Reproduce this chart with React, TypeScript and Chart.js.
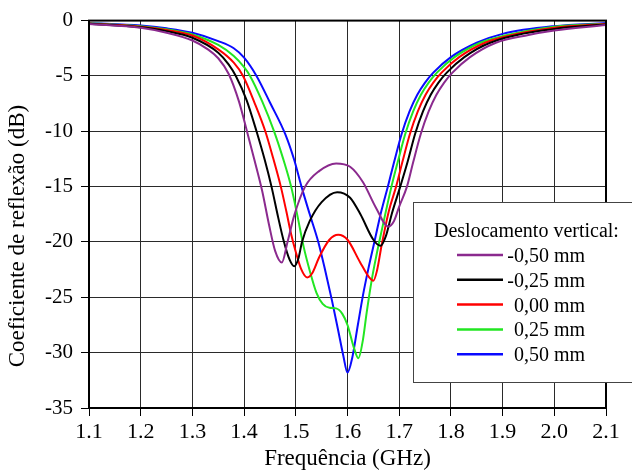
import React, { useEffect, useRef } from "react";
import { Chart, registerables } from "chart.js";

Chart.register(...registerables);

// ---- Data ----
const xTicks = [1.1, 1.2, 1.3, 1.4, 1.5, 1.6, 1.7, 1.8, 1.9, 2.0, 2.1];
const yTicks = [-35, -30, -25, -20, -15, -10, -5, 0];

const legendTitle = "Deslocamento vertical:";
const seriesLabels = ["-0,50 mm", "-0,25 mm", "0,00 mm", "0,25 mm", "0,50 mm"];

const freqM050 = [1.1, 1.2, 1.25, 1.3, 1.33, 1.35, 1.37, 1.39, 1.405, 1.42, 1.435, 1.448, 1.46, 1.473, 1.484, 1.497, 1.518, 1.545, 1.578, 1.605, 1.63, 1.655, 1.679, 1.69, 1.7, 1.715, 1.727, 1.742, 1.757, 1.772, 1.787, 1.803, 1.837, 1.887, 1.95, 2.0, 2.1];
const dbM050 = [-0.3, -0.65, -1.1, -1.8, -2.6, -3.4, -4.8, -7.3, -9.9, -12.6, -15.4, -18.4, -20.8, -21.85, -20.0, -17.6, -15.0, -13.6, -12.9, -13.2, -14.6, -16.9, -18.6, -18.1, -16.8, -15.0, -12.8, -10.2, -8.2, -6.7, -5.6, -4.7, -3.3, -2.0, -1.3, -0.9, -0.4];

const freqM025 = [1.1, 1.2, 1.25, 1.3, 1.35, 1.37, 1.384, 1.405, 1.424, 1.44, 1.453, 1.466, 1.476, 1.488, 1.497, 1.505, 1.512, 1.527, 1.55, 1.58, 1.605, 1.625, 1.65, 1.664, 1.674, 1.686, 1.702, 1.716, 1.731, 1.746, 1.761, 1.776, 1.792, 1.826, 1.876, 2.0, 2.1];
const dbM025 = [-0.28, -0.6, -0.95, -1.55, -2.9, -3.95, -5.0, -7.2, -10.0, -12.6, -15.0, -17.8, -19.8, -21.6, -22.2, -21.5, -20.0, -18.1, -16.4, -15.5, -16.0, -17.5, -19.8, -20.35, -19.5, -17.4, -15.0, -12.8, -10.2, -8.2, -6.7, -5.6, -4.7, -3.3, -2.0, -0.75, -0.35];

const freqP000 = [1.1, 1.2, 1.25, 1.3, 1.35, 1.38, 1.398, 1.42, 1.441, 1.456, 1.471, 1.482, 1.491, 1.5, 1.51, 1.522, 1.532, 1.545, 1.565, 1.582, 1.6, 1.624, 1.642, 1.65, 1.657, 1.666, 1.68, 1.694, 1.706, 1.721, 1.736, 1.751, 1.766, 1.782, 1.816, 1.866, 1.9, 2.0, 2.1];
const dbP000 = [-0.27, -0.55, -0.85, -1.35, -2.6, -3.8, -5.0, -7.4, -10.0, -12.4, -15.0, -17.3, -19.3, -20.9, -22.4, -23.2, -22.8, -21.4, -19.8, -19.35, -19.8, -21.8, -23.2, -23.5, -22.6, -20.3, -17.2, -15.0, -12.8, -10.2, -8.2, -6.7, -5.6, -4.7, -3.3, -2.0, -1.5, -0.65, -0.3];

const freqP025 = [1.1, 1.2, 1.25, 1.3, 1.35, 1.38, 1.4, 1.411, 1.435, 1.458, 1.475, 1.491, 1.503, 1.515, 1.527, 1.54, 1.552, 1.565, 1.578, 1.59, 1.6, 1.612, 1.621, 1.63, 1.637, 1.647, 1.656, 1.666, 1.685, 1.697, 1.712, 1.727, 1.742, 1.757, 1.773, 1.807, 1.857, 1.9, 2.0, 2.1];
const dbP025 = [-0.25, -0.5, -0.78, -1.25, -2.2, -3.2, -4.2, -4.95, -7.3, -10.0, -12.4, -15.0, -17.6, -20.4, -22.6, -24.6, -25.6, -25.95, -26.0, -26.5, -27.5, -29.5, -30.5, -28.8, -26.4, -23.4, -21.2, -19.0, -15.0, -12.8, -10.2, -8.2, -6.7, -5.6, -4.7, -3.3, -2.0, -1.4, -0.55, -0.28];

const freqP050 = [1.1, 1.2, 1.25, 1.3, 1.35, 1.38, 1.4, 1.424, 1.45, 1.48, 1.497, 1.511, 1.527, 1.5435, 1.557, 1.57, 1.582, 1.592, 1.6, 1.609, 1.62, 1.63, 1.64, 1.652, 1.665, 1.678, 1.69, 1.705, 1.72, 1.735, 1.75, 1.766, 1.8, 1.85, 1.9, 2.0, 2.1];
const dbP050 = [-0.22, -0.45, -0.7, -1.1, -1.85, -2.5, -3.35, -5.0, -7.4, -10.3, -12.6, -15.0, -17.5, -20.0, -22.6, -25.3, -28.0, -30.3, -31.8, -30.5, -27.5, -24.8, -22.5, -20.0, -17.3, -15.0, -12.8, -10.2, -8.2, -6.7, -5.6, -4.7, -3.3, -2.0, -1.2, -0.5, -0.22];

const seriesFreqs = [freqM050, freqM025, freqP000, freqP025, freqP050];
const seriesDb = [dbM050, dbM025, dbP000, dbP025, dbP050];

// ---- Styles ----
const seriesColors = ["#8B2A8E", "#000000", "#FF0000", "#22E622", "#0A0AFF"];
const SERIF = '"Liberation Serif", "Times New Roman", serif';

const decorPlugin = {
  id: "decor",
  afterDatasetsDraw(chart: any) {
    const { ctx, chartArea } = chart;
    const { left, top, right, bottom } = chartArea;
    ctx.save();
    ctx.strokeStyle = "#000";
    ctx.lineWidth = 2;
    ctx.strokeRect(left, top, right - left, bottom - top);
    ctx.restore();
  },
  afterDraw(chart: any) {
    const { ctx, chartArea } = chart;
    const { left, right } = chartArea;
    ctx.save();
    // Legend box
    const bx = 413, by = 202, bw = 240, bh = 180;
    ctx.fillStyle = "#fff";
    ctx.fillRect(bx, by, bw, bh);
    ctx.strokeStyle = "#444";
    ctx.lineWidth = 1;
    ctx.strokeRect(bx + 0.5, by + 0.5, bw, bh);
    ctx.fillStyle = "#000";
    ctx.font = `20px ${SERIF}`;
    ctx.textBaseline = "alphabetic";
    ctx.textAlign = "left";
    ctx.fillText(legendTitle, 434, 237);
    seriesLabels.forEach((lab, i) => {
      const ly = 255 + i * 24.8;
      ctx.strokeStyle = seriesColors[i];
      ctx.lineWidth = 2.5;
      ctx.beginPath();
      ctx.moveTo(457, ly);
      ctx.lineTo(503, ly);
      ctx.stroke();
      ctx.fillStyle = "#000";
      ctx.textAlign = "right";
      ctx.fillText(lab, 585, ly + 7);
    });
    // Axis titles
    ctx.fillStyle = "#000";
    ctx.font = `23px ${SERIF}`;
    ctx.textAlign = "center";
    ctx.textBaseline = "alphabetic";
    ctx.fillText("Frequência (GHz)", (left + right) / 2, 465);
    ctx.translate(24, 236);
    ctx.rotate(-Math.PI / 2);
    ctx.fillText("Coeficiente de reflexão (dB)", 0, 0);
    ctx.restore();
  },
};

export default function App() {
  const canvasRef = useRef<HTMLCanvasElement | null>(null);

  useEffect(() => {
    document.body.style.margin = "0";
    const canvas = canvasRef.current;
    if (!canvas) return;
    const datasets = seriesLabels.map((label, i) => ({
      label,
      data: seriesFreqs[i].map((f, j) => ({ x: f, y: seriesDb[i][j] })),
      borderColor: seriesColors[i],
      backgroundColor: seriesColors[i],
      borderWidth: 2,
      pointRadius: 0,
      cubicInterpolationMode: "monotone" as const,
      fill: false,
    }));
    const chart = new Chart(canvas, {
      type: "line",
      data: { datasets },
      options: {
        responsive: false,
        animation: false,
        devicePixelRatio: 1,
        layout: { padding: { top: 19, right: 26, left: 0, bottom: 0 } },
        plugins: { legend: { display: false }, tooltip: { enabled: false } },
        scales: {
          x: {
            type: "linear",
            min: 1.1,
            max: 2.1,
            afterBuildTicks: (scale: any) => {
              scale.ticks = xTicks.map((v) => ({ value: v }));
            },
            afterFit: (scale: any) => {
              scale.height = 64;
            },
            ticks: {
              color: "#000",
              font: { family: SERIF, size: 22 },
              padding: 3,
              maxRotation: 0,
              autoSkip: false,
              callback: (v: any) => Number(v).toFixed(1),
            },
            grid: { color: "#2a2a2a", lineWidth: 1, tickLength: 8, tickColor: "#000" },
            border: { display: true, color: "#000", width: 2 },
          },
          y: {
            type: "linear",
            min: -35,
            max: 0,
            afterBuildTicks: (scale: any) => {
              scale.ticks = yTicks.map((v) => ({ value: v }));
            },
            afterFit: (scale: any) => {
              scale.width = 89;
            },
            ticks: {
              color: "#000",
              font: { family: SERIF, size: 21 },
              padding: 8,
              autoSkip: false,
              callback: (v: any) => String(v),
            },
            grid: { color: "#2a2a2a", lineWidth: 1, tickLength: 8, tickColor: "#000" },
            border: { display: true, color: "#000", width: 2 },
          },
        },
      },
      plugins: [decorPlugin],
    });
    return () => chart.destroy();
  }, []);

  return (
    <div style={{ position: "absolute", left: 0, top: 0, width: 632, height: 472 }}>
      <canvas ref={canvasRef} width={632} height={472} style={{ display: "block" }} />
    </div>
  );
}
